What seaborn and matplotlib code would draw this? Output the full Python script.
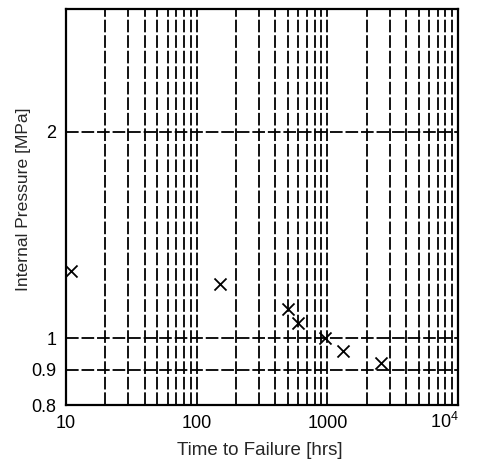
import matplotlib
matplotlib.use("Agg")
import matplotlib.pyplot as plt
import seaborn as sns
import pandas as pd
import numpy as np
from matplotlib.ticker import FixedLocator, FixedFormatter, NullFormatter

# Data
time_hrs = [11.0, 151, 502, 600, 965, 1310, 2560]
pressure_mpa = [1.254, 1.199, 1.103, 1.055, 1.0, 0.959, 0.920]

x_ticks = [10, 100, 1000, 10000]
x_tick_labels = ["10", "100", "1000", ""]
last_x_label = "$\\mathregular{10^4}$"
y_ticks = [0.8, 0.9, 1, 2]
y_tick_labels = ["0.8", "0.9", "1", "2"]
y_grid = [0.9, 1, 2]
x_grid = [m * 10**e for e in (1, 2, 3) for m in range(2, 10)] + [100, 1000]

df = pd.DataFrame({"t": time_hrs, "p": pressure_mpa})

sns.set_style("white")
plt.rcParams["font.family"] = ["Liberation Sans", "DejaVu Sans"]

fig = plt.figure(figsize=(4.79, 4.66), dpi=100)
ax = fig.add_axes([66/479, 1-405/466, (458-66)/479, (405-9)/466])

ax.set_xscale("log")
ax.set_yscale("log")
ax.set_xlim(10, 10000)
ax.set_ylim(0.8, 3.02)

dash = (0, (7, 1.6))
for xv in x_grid:
    ax.axvline(xv, color="black", lw=1.3, ls=dash, zorder=1)
for yv in y_grid:
    ax.axhline(yv, color="black", lw=1.3, ls=dash, zorder=1)

sns.scatterplot(data=df, x="t", y="p", marker="x", color="black", s=75,
                linewidth=1.3, ax=ax, zorder=3, legend=False)

ax.xaxis.set_major_locator(FixedLocator(x_ticks))
ax.xaxis.set_major_formatter(FixedFormatter(x_tick_labels))
ax.xaxis.set_minor_locator(FixedLocator([]))
ax.xaxis.set_minor_formatter(NullFormatter())
ax.yaxis.set_major_locator(FixedLocator(y_ticks))
ax.yaxis.set_major_formatter(FixedFormatter(y_tick_labels))
ax.yaxis.set_minor_locator(FixedLocator([]))
ax.yaxis.set_minor_formatter(NullFormatter())
ax.tick_params(axis="both", which="major", direction="in", length=4,
               labelsize=13, colors="black", pad=7)

# 10^4 label with raised exponent, baseline aligned with the other labels
ax.annotate(last_x_label, xy=(1, 0), xycoords="axes fraction",
            xytext=(0.5, -16.5), textcoords="offset points",
            ha="right", va="baseline", fontsize=13, color="black",
            annotation_clip=False)

for s in ax.spines.values():
    s.set_color("black")
    s.set_linewidth(1.6)

ax.set_xlabel("Time to Failure [hrs]", fontsize=13.5)
ax.set_ylabel("Internal Pressure [MPa]", fontsize=12.6)
ax.xaxis.set_label_coords(0.495, -0.114)
ax.yaxis.set_label_coords(-0.108, 0.52)
ax.xaxis.label.set_verticalalignment("center")
ax.yaxis.label.set_verticalalignment("center")

fig.savefig("out.png", dpi=100)
